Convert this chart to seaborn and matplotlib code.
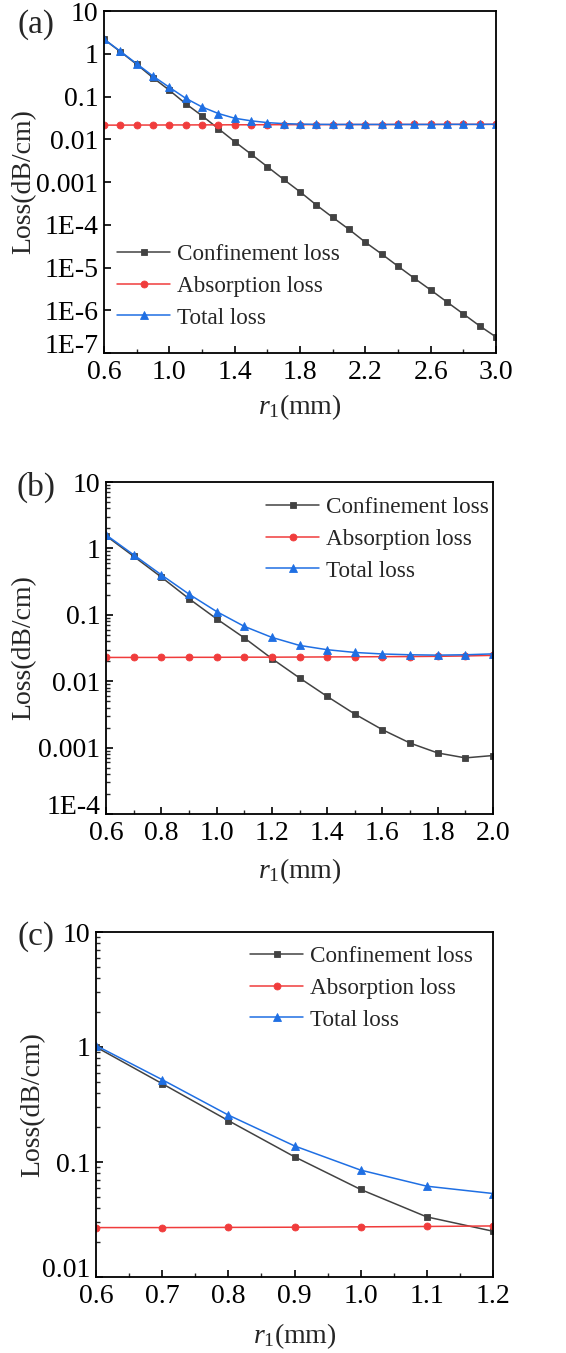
import numpy as np
import pandas as pd
import seaborn as sns
import matplotlib
matplotlib.use("Agg")
import matplotlib.pyplot as plt
from matplotlib.ticker import FixedLocator, FixedFormatter, LogLocator, NullFormatter, MultipleLocator

# ---------------- data ----------------
r_a = [0.6, 0.7, 0.8, 0.9, 1.0, 1.1, 1.2, 1.3, 1.4, 1.5, 1.6, 1.7, 1.8, 1.9, 2.0,
       2.1, 2.2, 2.3, 2.4, 2.5, 2.6, 2.7, 2.8, 2.9, 3.0]
conf_a = [2.18, 1.12, 0.565, 0.275, 0.14, 0.068, 0.0355, 0.0177, 0.0088, 0.0045, 0.00228,
          0.00115, 0.00059, 2.9e-4, 1.49e-4, 7.8e-5, 3.9e-5, 2.07e-5, 1.07e-5, 5.6e-6,
          2.98e-6, 1.56e-6, 8.2e-7, 4.3e-7, 2.37e-7]
abs_a = [0.0214, 0.0214, 0.0215, 0.0215, 0.0216, 0.0216, 0.0217, 0.0217, 0.0218, 0.0218,
         0.0219, 0.0219, 0.0220, 0.0220, 0.0220, 0.0221, 0.0221, 0.0221, 0.0222, 0.0222,
         0.0222, 0.0223, 0.0223, 0.0223, 0.0224]
tot_a = [2.2, 1.14, 0.585, 0.30, 0.164, 0.091, 0.057, 0.040, 0.031, 0.027, 0.0245,
         0.0232, 0.0226, 0.0223, 0.0222, 0.0222, 0.0222, 0.0222, 0.0222, 0.0222,
         0.0222, 0.0223, 0.0223, 0.0223, 0.0224]

r_b = [0.6, 0.7, 0.8, 0.9, 1.0, 1.1, 1.2, 1.3, 1.4, 1.5, 1.6, 1.7, 1.8, 1.9, 2.0]
conf_b = [1.55, 0.76, 0.37, 0.175, 0.087, 0.045, 0.0219, 0.0112, 0.0059, 0.0032, 0.00186,
          0.00117, 0.00083, 0.0007, 0.00076]
abs_b = [0.0228, 0.0228, 0.0228, 0.0229, 0.0229, 0.0230, 0.0230, 0.0231, 0.0232, 0.0233,
         0.0234, 0.0235, 0.0237, 0.0240, 0.0245]
tot_b = [1.6, 0.80, 0.40, 0.205, 0.112, 0.067, 0.0457, 0.0346, 0.0298, 0.0271, 0.0257,
         0.0250, 0.0247, 0.0250, 0.0258]

r_c = [0.6, 0.7, 0.8, 0.9, 1.0, 1.1, 1.2]
conf_c = [1.0, 0.48, 0.229, 0.111, 0.0577, 0.0333, 0.025]
abs_c = [0.0269, 0.0269, 0.0270, 0.0271, 0.0273, 0.0275, 0.0278]
tot_c = [1.03, 0.52, 0.256, 0.138, 0.085, 0.0616, 0.0532]

series_names = ["Confinement loss", "Absorption loss", "Total loss"]
yticks_a = [1e-7, 1e-6, 1e-5, 1e-4, 1e-3, 1e-2, 1e-1, 1, 10]
ylabels_a = ["1E-7", "1E-6", "1E-5", "1E-4", "0.001", "0.01", "0.1", "1", "10"]
yticks_b = [1e-4, 1e-3, 1e-2, 1e-1, 1, 10]
ylabels_b = ["1E-4", "0.001", "0.01", "0.1", "1", "10"]
yticks_c = [1e-2, 1e-1, 1, 10]
ylabels_c = ["0.01", "0.1", "1", "10"]
xticks_a = [0.6, 1.0, 1.4, 1.8, 2.2, 2.6, 3.0]
xticks_b = [0.6, 0.8, 1.0, 1.2, 1.4, 1.6, 1.8, 2.0]
xticks_c = [0.6, 0.7, 0.8, 0.9, 1.0, 1.1, 1.2]

# ---------------- style ----------------
sns.set_theme(style="ticks")
plt.rcParams['font.family'] = ['Liberation Serif', 'DejaVu Serif']
plt.rcParams['mathtext.fontset'] = 'custom'
plt.rcParams['mathtext.it'] = 'Liberation Serif:italic'
plt.rcParams['mathtext.rm'] = 'Liberation Serif'

colors = ["#424242", "#f03c3c", "#1f6fe3"]
markers = ["s", "o", "^"]
msizes = [4.6, 5.0, 5.4]

W, H = 566, 1353
fig = plt.figure(figsize=(W / 100, H / 100), dpi=100)

def make_ax(l, r, t, b):
    return fig.add_axes([l / W, 1 - b / H, (r - l) / W, (b - t) / H])

panels = [
    dict(box=(104, 496, 11, 353), r=r_a, ys=[conf_a, abs_a, tot_a], ylim=(1e-7, 10),
         yt=yticks_a, yl=ylabels_a, xt=xticks_a, xlim=(0.6, 3.0), minor=0.2,
         leg=(117, 244), tag="(a)", tagy=25, ylabx=24, xlaby=407),
    dict(box=(106, 493, 482, 814), r=r_b, ys=[conf_b, abs_b, tot_b], ylim=(1e-4, 10),
         yt=yticks_b, yl=ylabels_b, xt=xticks_b, xlim=(0.6, 2.0), minor=0.1,
         leg=(266, 497), tag="(b)", tagy=487, ylabx=24, xlaby=871),
    dict(box=(96, 493, 932, 1277), r=r_c, ys=[conf_c, abs_c, tot_c], ylim=(1e-2, 10),
         yt=yticks_c, yl=ylabels_c, xt=xticks_c, xlim=(0.6, 1.2), minor=0.05,
         leg=(250, 946), tag="(c)", tagy=937, ylabx=33, xlaby=1336),
]

for p in panels:
    ax = make_ax(*p["box"])
    for name, y, c, m, ms in zip(series_names, p["ys"], colors, markers, msizes):
        df = pd.DataFrame({"r": p["r"], "loss": y})
        sns.lineplot(data=df, x="r", y="loss", ax=ax, color=c, marker=m, markersize=ms,
                     markeredgecolor=c, markeredgewidth=0.6, linewidth=1.1, label=name)
    ax.set_yscale("log")
    ax.set_ylim(*p["ylim"])
    ax.set_xlim(*p["xlim"])
    ax.yaxis.set_major_locator(FixedLocator(p["yt"]))
    ax.yaxis.set_major_formatter(FixedFormatter(p["yl"]))
    ax.yaxis.set_minor_locator(LogLocator(base=10, subs=np.arange(2, 10)))
    ax.yaxis.set_minor_formatter(NullFormatter())
    ax.set_xticks(p["xt"])
    ax.set_xticklabels([f"{v:.1f}" for v in p["xt"]])
    ax.xaxis.set_minor_locator(MultipleLocator(p["minor"]))
    ax.tick_params(axis="both", which="major", direction="in", length=5, width=1.2,
                   labelsize=20, colors="black", top=False, right=False)
    ax.tick_params(axis="y", which="major", pad=4)
    ax.tick_params(axis="x", which="major", pad=5)
    ax.tick_params(axis="both", which="minor", direction="in", length=3, width=1.0,
                   top=False, right=False)
    for s in ax.spines.values():
        s.set_linewidth(1.3)
        s.set_color("black")
    ax.set_xlabel("")
    ax.set_ylabel("")
    # bottom y tick label sits slightly above its tick, as in the reference
    fig.canvas.draw()
    ax.yaxis.get_major_ticks()[0].label1.set_verticalalignment("baseline")
    fig.text(p["ylabx"] / W, 1 - ((p["box"][2] + p["box"][3]) / 2) / H, "Loss(dB/cm)",
             rotation=90, ha="center", va="center", fontsize=20)
    fig.text(((p["box"][0] + p["box"][1]) / 2) / W, 1 - p["xlaby"] / H, r"$r_1$(mm)",
             ha="center", va="center", fontsize=20)
    fig.text(36 / W, 1 - p["tagy"] / H, p["tag"], ha="center", va="center", fontsize=24)
    lx, ly = p["leg"]
    ax.legend(frameon=False, fontsize=16.7, handlelength=2.3, handletextpad=0.3,
              labelspacing=0.45, borderaxespad=0.0, borderpad=0.0,
              loc="upper left", bbox_to_anchor=(lx / W, 1 - ly / H),
              bbox_transform=fig.transFigure)

fig.savefig("out.png", dpi=100)
